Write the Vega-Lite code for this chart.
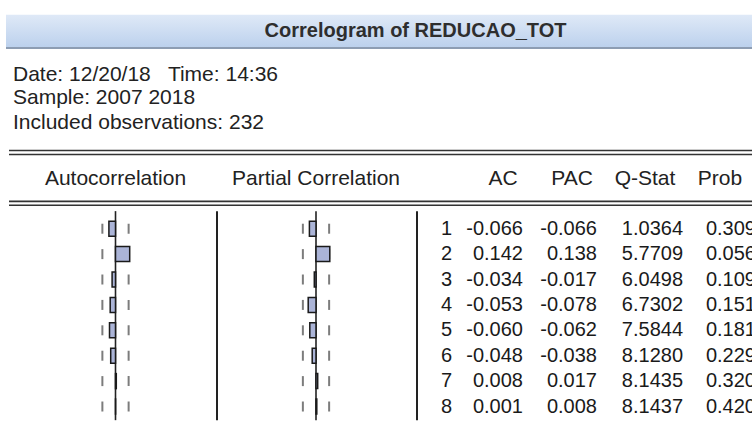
{
  "$schema": "https://vega.github.io/schema/vega-lite/v6.json",
  "width": 752,
  "height": 433,
  "padding": 0,
  "autosize": {"type": "none"},
  "background": "white",
  "config": {
    "view": {"stroke": null},
    "axis": {"disable": true},
    "locale": {"number": {"decimal": ".", "thousands": ",", "grouping": [3], "currency": ["$", ""], "minus": "-"}},
    "text": {"font": "Liberation Sans", "fontSize": 20, "color": "#1a1a1a"}
  },
  "datasets": {
    "corr": [
      {"lag": 1, "ac": -0.066, "pac": -0.066, "q": 1.0364, "prob": 0.309},
      {"lag": 2, "ac": 0.142, "pac": 0.138, "q": 5.7709, "prob": 0.056},
      {"lag": 3, "ac": -0.034, "pac": -0.017, "q": 6.0498, "prob": 0.109},
      {"lag": 4, "ac": -0.053, "pac": -0.078, "q": 6.7302, "prob": 0.151},
      {"lag": 5, "ac": -0.060, "pac": -0.062, "q": 7.5844, "prob": 0.181},
      {"lag": 6, "ac": -0.048, "pac": -0.038, "q": 8.1280, "prob": 0.229},
      {"lag": 7, "ac": 0.008, "pac": 0.017, "q": 8.1435, "prob": 0.320},
      {"lag": 8, "ac": 0.001, "pac": 0.008, "q": 8.1437, "prob": 0.420}
    ],
    "one": [{}]
  },
  "resolve": {"scale": {"x": "independent"}},
  "layer": [
    {
      "layer": [
        {
          "data": {"name": "one"},
          "mark": {"type": "rect", "fill": {"gradient": "linear", "x1": 0, "y1": 0, "x2": 0, "y2": 1, "stops": [{"offset": 0, "color": "#dfe9f7"}, {"offset": 1, "color": "#bcd1ed"}]}},
          "encoding": {
            "x": {"datum": -1.095, "type": "quantitative", "scale": {"domain": [-1, 1], "range": [15.5, 215.5], "nice": false, "zero": false}},
            "x2": {"datum": 6.4},
            "y": {"datum": -7.4231, "type": "quantitative", "scale": {"domain": [-7.80769, 8.84615], "reverse": true, "nice": false, "zero": false}},
            "y2": {"datum": -6.1538}
          }
        },
        {
          "data": {"name": "one"},
          "mark": {"type": "rule", "color": "#8d9db3", "strokeWidth": 2},
          "encoding": {"x": {"datum": -1.095, "type": "quantitative"}, "x2": {"datum": 6.4}, "y": {"datum": -6.1154, "type": "quantitative"}}
        },
        {
          "data": {"name": "one"},
          "mark": {"type": "rule", "color": "#333333", "strokeWidth": 1.6},
          "encoding": {"x": {"datum": -1.065, "type": "quantitative"}, "x2": {"datum": 6.4}, "y": {"datum": -2.0769, "type": "quantitative"}}
        },
        {
          "data": {"name": "one"},
          "mark": {"type": "rule", "color": "#333333", "strokeWidth": 1.6},
          "encoding": {"x": {"datum": -1.065, "type": "quantitative"}, "x2": {"datum": 6.4}, "y": {"datum": -1.9231, "type": "quantitative"}}
        },
        {
          "data": {"name": "one"},
          "mark": {"type": "rule", "color": "#333333", "strokeWidth": 1.6},
          "encoding": {"x": {"datum": -1.065, "type": "quantitative"}, "x2": {"datum": 6.4}, "y": {"datum": -0.0769, "type": "quantitative"}}
        },
        {
          "data": {"name": "one"},
          "mark": {"type": "rule", "color": "#333333", "strokeWidth": 1.6},
          "encoding": {"x": {"datum": -1.065, "type": "quantitative"}, "x2": {"datum": 6.4}, "y": {"datum": 0.0769, "type": "quantitative"}}
        },
        {
          "data": {"name": "corr"},
          "mark": {"type": "tick", "orient": "vertical", "size": 10, "thickness": 2, "color": "#444444"},
          "encoding": {
            "x": {"datum": 0.1313, "type": "quantitative"},
            "y": {"field": "lag", "type": "quantitative"}
          }
        },
        {
          "data": {"name": "corr"},
          "mark": {"type": "tick", "orient": "vertical", "size": 10, "thickness": 2, "color": "#444444"},
          "encoding": {
            "x": {"datum": -0.1313, "type": "quantitative"},
            "y": {"field": "lag", "type": "quantitative"}
          }
        },
        {
          "data": {"name": "one"},
          "mark": {"type": "rule", "color": "#222222", "strokeWidth": 1.6},
          "encoding": {
            "x": {"datum": 0, "type": "quantitative"},
            "y": {"datum": 0.3077, "type": "quantitative"},
            "y2": {"datum": 8.538}
          }
        },
        {
          "data": {"name": "one"},
          "mark": {"type": "rule", "color": "#222222", "strokeWidth": 2},
          "encoding": {
            "x": {"datum": 1.015, "type": "quantitative"},
            "y": {"datum": 0.3077, "type": "quantitative"},
            "y2": {"datum": 8.538}
          }
        },
        {
          "data": {"name": "corr"},
          "mark": {"type": "bar", "orient": "horizontal", "size": 15, "fill": "#abb4d7", "stroke": "#1a1a1a", "strokeWidth": 1.5},
          "encoding": {
            "x": {"field": "ac", "type": "quantitative"},
            "x2": {"datum": 0},
            "y": {"field": "lag", "type": "quantitative"}
          }
        },
        {
          "data": {"name": "one"},
          "mark": {"type": "text", "align": "center", "baseline": "middle", "fontSize": 21, "color": "#222222"},
          "encoding": {
            "x": {"datum": 0, "type": "quantitative"},
            "y": {"datum": -0.9615, "type": "quantitative"},
            "text": {"value": "Autocorrelation"}
          }
        },
        {
          "data": {"name": "one"},
          "mark": {"type": "text", "align": "left", "baseline": "middle", "fontSize": 21, "color": "#222222"},
          "encoding": {
            "x": {"datum": -1.025, "type": "quantitative"},
            "y": {"datum": -5.07, "type": "quantitative"},
            "text": {"value": "Date: 12/20/18\u00a0\u00a0 Time: 14:36"}
          }
        },
        {
          "data": {"name": "one"},
          "mark": {"type": "text", "align": "left", "baseline": "middle", "fontSize": 21, "color": "#222222"},
          "encoding": {
            "x": {"datum": -1.025, "type": "quantitative"},
            "y": {"datum": -4.14, "type": "quantitative"},
            "text": {"value": "Sample: 2007 2018"}
          }
        },
        {
          "data": {"name": "one"},
          "mark": {"type": "text", "align": "left", "baseline": "middle", "fontSize": 21, "color": "#222222"},
          "encoding": {
            "x": {"datum": -1.025, "type": "quantitative"},
            "y": {"datum": -3.18, "type": "quantitative"},
            "text": {"value": "Included observations: 232"}
          }
        }
      ]
    },
    {
      "layer": [
        {
          "data": {"name": "corr"},
          "mark": {"type": "tick", "orient": "vertical", "size": 10, "thickness": 2, "color": "#444444"},
          "encoding": {
            "x": {"datum": 0.1313, "type": "quantitative", "scale": {"domain": [-1, 1], "range": [216, 416], "nice": false, "zero": false}},
            "y": {"field": "lag", "type": "quantitative"}
          }
        },
        {
          "data": {"name": "corr"},
          "mark": {"type": "tick", "orient": "vertical", "size": 10, "thickness": 2, "color": "#444444"},
          "encoding": {
            "x": {"datum": -0.1313, "type": "quantitative"},
            "y": {"field": "lag", "type": "quantitative"}
          }
        },
        {
          "data": {"name": "one"},
          "mark": {"type": "rule", "color": "#222222", "strokeWidth": 1.6},
          "encoding": {
            "x": {"datum": 0, "type": "quantitative"},
            "y": {"datum": 0.3077, "type": "quantitative"},
            "y2": {"datum": 8.538}
          }
        },
        {
          "data": {"name": "one"},
          "mark": {"type": "rule", "color": "#222222", "strokeWidth": 2},
          "encoding": {
            "x": {"datum": 1.01, "type": "quantitative"},
            "y": {"datum": 0.3077, "type": "quantitative"},
            "y2": {"datum": 8.538}
          }
        },
        {
          "data": {"name": "corr"},
          "mark": {"type": "bar", "orient": "horizontal", "size": 15, "fill": "#abb4d7", "stroke": "#1a1a1a", "strokeWidth": 1.5},
          "encoding": {
            "x": {"field": "pac", "type": "quantitative"},
            "x2": {"datum": 0},
            "y": {"field": "lag", "type": "quantitative"}
          }
        },
        {
          "data": {"name": "one"},
          "mark": {"type": "text", "align": "center", "baseline": "middle", "fontSize": 21, "color": "#222222"},
          "encoding": {
            "x": {"datum": 0, "type": "quantitative"},
            "y": {"datum": -0.9615, "type": "quantitative"},
            "text": {"value": "Partial Correlation"}
          }
        },
        {
          "data": {"name": "one"},
          "mark": {"type": "text", "align": "center", "baseline": "middle", "fontSize": 20, "fontWeight": "bold", "color": "#2e2e2e"},
          "encoding": {
            "x": {"datum": 0.995, "type": "quantitative"},
            "y": {"datum": -6.7692, "type": "quantitative"},
            "text": {"value": "Correlogram of REDUCAO_TOT"}
          }
        }
      ]
    },
    {
      "data": {"name": "one"},
      "layer": [
        {
          "mark": {"type": "text", "align": "center", "baseline": "middle", "fontSize": 21, "dx": -25, "color": "#222222"},
          "encoding": {
            "x": {"datum": "AC", "type": "nominal", "scale": {"type": "point", "domain": ["lag", "AC", "PAC", "Q-Stat", "Prob"], "range": [452, 756], "padding": 0}},
            "y": {"datum": -0.9615, "type": "quantitative"},
            "text": {"value": "AC"}
          }
        },
        {
          "mark": {"type": "text", "align": "center", "baseline": "middle", "fontSize": 21, "dx": -32, "color": "#222222"},
          "encoding": {
            "x": {"datum": "PAC", "type": "nominal"},
            "y": {"datum": -0.9615, "type": "quantitative"},
            "text": {"value": "PAC"}
          }
        },
        {
          "mark": {"type": "text", "align": "center", "baseline": "middle", "fontSize": 21, "dx": -35, "color": "#222222"},
          "encoding": {
            "x": {"datum": "Q-Stat", "type": "nominal"},
            "y": {"datum": -0.9615, "type": "quantitative"},
            "text": {"value": "Q-Stat"}
          }
        },
        {
          "mark": {"type": "text", "align": "center", "baseline": "middle", "fontSize": 21, "dx": -36, "color": "#222222"},
          "encoding": {
            "x": {"datum": "Prob", "type": "nominal"},
            "y": {"datum": -0.9615, "type": "quantitative"},
            "text": {"value": "Prob"}
          }
        },
        {
          "data": {"name": "corr"},
          "mark": {"type": "text", "align": "right", "baseline": "middle"},
          "encoding": {
            "x": {"datum": "lag", "type": "nominal"},
            "y": {"field": "lag", "type": "quantitative"},
            "text": {"field": "lag", "type": "quantitative", "format": "d"}
          }
        },
        {
          "data": {"name": "corr"},
          "mark": {"type": "text", "align": "right", "baseline": "middle", "dx": -5},
          "encoding": {
            "x": {"datum": "AC", "type": "nominal"},
            "y": {"field": "lag", "type": "quantitative"},
            "text": {"field": "ac", "type": "quantitative", "format": ".3f"}
          }
        },
        {
          "data": {"name": "corr"},
          "mark": {"type": "text", "align": "right", "baseline": "middle", "dx": -7},
          "encoding": {
            "x": {"datum": "PAC", "type": "nominal"},
            "y": {"field": "lag", "type": "quantitative"},
            "text": {"field": "pac", "type": "quantitative", "format": ".3f"}
          }
        },
        {
          "data": {"name": "corr"},
          "mark": {"type": "text", "align": "right", "baseline": "middle", "dx": 3},
          "encoding": {
            "x": {"datum": "Q-Stat", "type": "nominal"},
            "y": {"field": "lag", "type": "quantitative"},
            "text": {"field": "q", "type": "quantitative", "format": ".4f"}
          }
        },
        {
          "data": {"name": "corr"},
          "mark": {"type": "text", "align": "right", "baseline": "middle"},
          "encoding": {
            "x": {"datum": "Prob", "type": "nominal"},
            "y": {"field": "lag", "type": "quantitative"},
            "text": {"field": "prob", "type": "quantitative", "format": ".3f"}
          }
        }
      ]
    }
  ]
}
